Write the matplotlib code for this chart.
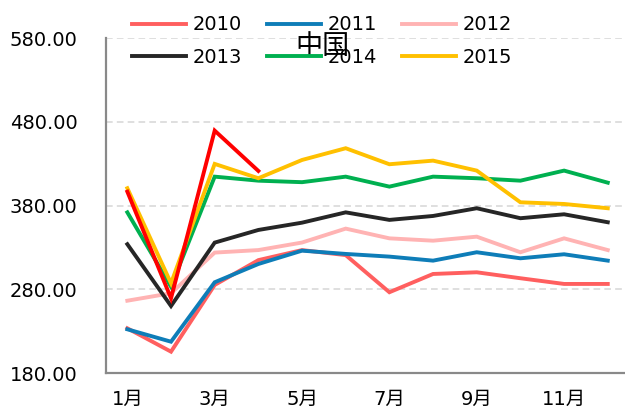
import matplotlib
matplotlib.use("Agg")
import matplotlib.pyplot as plt

months = ["1月", "2月", "3月", "4月", "5月", "6月", "7月", "8月", "9月", "10月", "11月", "12月"]
tick_labels = ["1月", "3月", "5月", "7月", "9月", "11月"]

s2010 = [233.7, 205.8, 285.4, 315.0, 327.0, 321.0, 276.7, 298.5, 300.5, 293.4, 286.6, 286.6]
s2011 = [232.5, 217.7, 288.6, 310.4, 326.3, 322.4, 319.2, 314.4, 324.4, 317.2, 322.0, 314.4]
s2012 = [266.6, 275.5, 324.0, 327.0, 336.0, 352.6, 341.0, 338.2, 343.0, 324.4, 341.0, 327.0]
s2013 = [334.0, 260.3, 335.9, 351.0, 359.7, 372.0, 363.0, 367.7, 376.9, 365.0, 369.7, 360.2]
s2014 = [372.0, 283.3, 414.6, 409.8, 408.0, 414.6, 402.7, 414.6, 412.7, 409.8, 421.8, 407.4]
s2015 = [400.8, 287.4, 429.8, 412.7, 434.5, 448.5, 429.4, 433.7, 421.8, 384.0, 382.0, 376.9]
s2016 = [396.7, 269.5, 469.5, 421.4]

series = [
    ("2010", s2010, "#FF5F5F"),
    ("2011", s2011, "#0E7DB8"),
    ("2012", s2012, "#FFB3B3"),
    ("2013", s2013, "#262626"),
    ("2014", s2014, "#00B050"),
    ("2015", s2015, "#FFC000"),
]

W, H = 625, 419
fig = plt.figure(figsize=(W / 100, H / 100), dpi=100)
left, right, top, bottom = 105.5, 629.6, 38.0, 373.3
ax = fig.add_axes([left / W, 1 - bottom / H, (right - left) / W, (bottom - top) / H])

x = list(range(len(months)))
handles = []
for name, vals, col in series:
    h, = ax.plot(x[:len(vals)], vals, color=col, lw=2.8, label=name, solid_joinstyle="miter")
    handles.append(h)
ax.plot(x[:len(s2016)], s2016, color="#FF0000", lw=2.8, solid_joinstyle="miter")

ax.set_xlim(-0.5, 11.5)
ax.set_ylim(180, 580)
ax.set_yticks([180, 280, 380, 480, 580])
ax.set_yticklabels([f"{v:.2f}" for v in [180, 280, 380, 480, 580]])
ax.set_xticks([months.index(t) for t in tick_labels])
ax.set_xticklabels(tick_labels)

fam = ["DejaVu Sans", "Noto Sans CJK SC"]
for lab in ax.get_yticklabels() + ax.get_xticklabels():
    lab.set_family(fam)
    lab.set_fontsize(14)
    lab.set_color("#000000")
ax.tick_params(axis="y", length=0, pad=20)
ax.tick_params(axis="x", length=0, pad=12)

ax.grid(axis="y", color="#D9D9D9", linestyle=(0, (4, 2.5)), lw=1.2)
ax.set_axisbelow(True)
for sp in ["top", "right"]:
    ax.spines[sp].set_visible(False)
for sp in ["left", "bottom"]:
    ax.spines[sp].set_color("#898989")
    ax.spines[sp].set_linewidth(1.6)
ax.patch.set_alpha(0)

order = [0, 3, 1, 4, 2, 5]
leg = fig.legend([handles[i] for i in order], [series[i][0] for i in order],
                 ncol=3, loc="upper left", bbox_to_anchor=(132 / W, 1 - 15.5 / H),
                 frameon=False, handlelength=2.8, handletextpad=0.3,
                 columnspacing=1.3, labelspacing=0.68, borderpad=0, borderaxespad=0,
                 prop={"family": "DejaVu Sans", "size": 14})
for t in leg.get_texts():
    t.set_color("#000000")

fig.text(323 / W, 1 - 47 / H, "中国", ha="center", va="center",
         family=["Noto Sans CJK SC", "DejaVu Sans"], fontsize=19.5, color="#000000")

fig.savefig("out.png", dpi=100)
